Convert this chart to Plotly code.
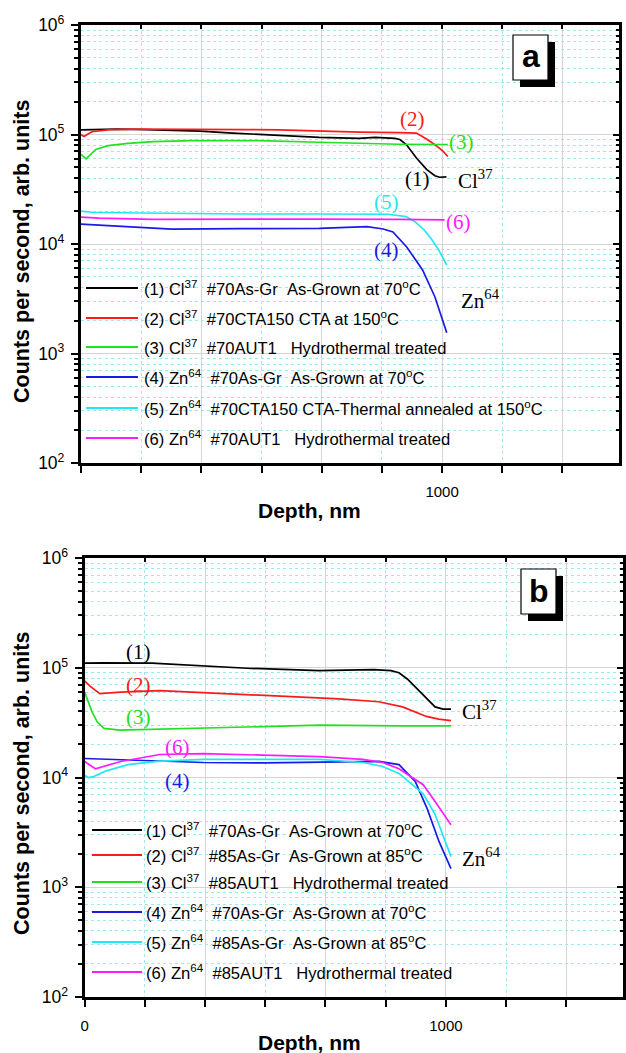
import plotly.graph_objects as go

W, H = 626, 1053

# ---------------- panel (a): #70 series, CTA and hydrothermal treatments ----------------
a_cl_asgr_x = [0, 40, 100, 180, 260, 330, 420, 550, 660, 770, 814, 870, 883, 901, 929, 957, 980, 993, 1012]
a_cl_asgr_y = [1.10e5, 1.11e5, 1.12e5, 1.11e5, 1.09e5, 1.075e5, 1.03e5, 9.8e4, 9.4e4, 9.2e4, 9.4e4, 9.2e4,
               9.0e4, 8.1e4, 6.1e4, 4.8e4, 4.2e4, 4.07e4, 4.1e4]
a_cl_cta_x = [0, 8, 30, 80, 150, 300, 450, 550, 660, 770, 880, 929, 957, 984, 1003, 1016]
a_cl_cta_y = [1.0e5, 9.6e4, 1.06e5, 1.11e5, 1.12e5, 1.12e5, 1.11e5, 1.10e5, 1.07e5, 1.05e5, 1.04e5, 1.03e5,
              9.1e4, 7.9e4, 7.0e4, 6.3e4]
a_cl_aut_x = [0, 14, 41, 75, 130, 200, 307, 494, 660, 880, 1016]
a_cl_aut_y = [6.6e4, 6.0e4, 7.3e4, 7.9e4, 8.3e4, 8.6e4, 8.8e4, 8.8e4, 8.5e4, 8.15e4, 8.1e4]
a_zn_asgr_x = [0, 107, 251, 440, 660, 792, 837, 864, 902, 946, 980, 1013]
a_zn_asgr_y = [1.52e4, 1.46e4, 1.37e4, 1.38e4, 1.39e4, 1.44e4, 1.37e4, 1.29e4, 9.4e3, 5.8e3, 3.3e3, 1.55e3]
a_zn_cta_x = [0, 30, 107, 250, 440, 660, 850, 900, 925, 950, 969, 991, 1013]
a_zn_cta_y = [2.0e4, 1.95e4, 1.93e4, 1.9e4, 1.88e4, 1.88e4, 1.87e4, 1.78e4, 1.6e4, 1.35e4, 1.13e4, 8.8e3, 6.4e3]
a_zn_aut_x = [0, 50, 200, 440, 660, 880, 1007]
a_zn_aut_y = [1.76e4, 1.72e4, 1.68e4, 1.69e4, 1.69e4, 1.68e4, 1.66e4]

# ---------------- panel (b): as-grown at 70/85 C and hydrothermal ----------------
b_cl_70_x = [0, 50, 186, 319, 450, 649, 800, 848, 870, 893, 915, 937, 955, 970, 992, 1014]
b_cl_70_y = [1.1e5, 1.11e5, 1.1e5, 1.04e5, 9.9e4, 9.4e4, 9.6e4, 9.4e4, 9.0e4, 7.9e4, 6.7e4, 5.7e4, 4.9e4,
             4.4e4, 4.2e4, 4.2e4]
b_cl_85_x = [0, 15, 42, 100, 208, 430, 704, 814, 880, 946, 980, 1014]
b_cl_85_y = [7.6e4, 6.8e4, 5.8e4, 6.0e4, 6.2e4, 5.7e4, 5.2e4, 4.9e4, 4.4e4, 3.6e4, 3.4e4, 3.3e4]
b_cl_aut_x = [0, 10, 20, 35, 54, 98, 200, 329, 500, 649, 870, 1014]
b_cl_aut_y = [6.0e4, 5.0e4, 4.0e4, 3.2e4, 2.8e4, 2.7e4, 2.75e4, 2.8e4, 2.9e4, 3.0e4, 2.95e4, 2.95e4]
b_zn_70_x = [0, 98, 200, 329, 500, 649, 815, 870, 915, 948, 981, 1014]
b_zn_70_y = [1.49e4, 1.46e4, 1.42e4, 1.37e4, 1.36e4, 1.37e4, 1.4e4, 1.31e4, 9.2e3, 5.2e3, 2.6e3, 1.48e3]
b_zn_85_x = [0, 10, 25, 60, 120, 200, 329, 649, 770, 825, 870, 937, 970, 1014]
b_zn_85_y = [1.05e4, 1.0e4, 1.02e4, 1.15e4, 1.31e4, 1.4e4, 1.46e4, 1.46e4, 1.37e4, 1.26e4, 1.09e4, 7.1e3,
             4.6e3, 1.9e3]
b_zn_aut_x = [0, 30, 100, 208, 329, 649, 770, 825, 870, 937, 970, 1014]
b_zn_aut_y = [1.4e4, 1.2e4, 1.4e4, 1.62e4, 1.65e4, 1.55e4, 1.46e4, 1.37e4, 1.2e4, 8.6e3, 6.05e3, 3.7e3]

NB = "\u00a0"
deg = "<sup>o</sup>C"
names_a = [
    f"(1) Cl<sup>37</sup>{NB*2}#70As-Gr{NB*2}As-Grown at 70{deg}",
    f"(2) Cl<sup>37</sup>{NB*2}#70CTA150 CTA at 150{deg}",
    f"(3) Cl<sup>37</sup>{NB*2}#70AUT1{NB*3}Hydrothermal treated",
    f"(4) Zn<sup>64</sup>{NB*2}#70As-Gr{NB*2}As-Grown at 70{deg}",
    f"(5) Zn<sup>64</sup>{NB*2}#70CTA150 CTA-Thermal annealed at 150{deg}",
    f"(6) Zn<sup>64</sup>{NB*2}#70AUT1{NB*3}Hydrothermal treated",
]
names_b = [
    f"(1) Cl<sup>37</sup>{NB*2}#70As-Gr{NB*2}As-Grown at 70{deg}",
    f"(2) Cl<sup>37</sup>{NB*2}#85As-Gr{NB*2}As-Grown at 85{deg}",
    f"(3) Cl<sup>37</sup>{NB*2}#85AUT1{NB*3}Hydrothermal treated",
    f"(4) Zn<sup>64</sup>{NB*2}#70As-Gr{NB*2}As-Grown at 70{deg}",
    f"(5) Zn<sup>64</sup>{NB*2}#85As-Gr{NB*2}As-Grown at 85{deg}",
    f"(6) Zn<sup>64</sup>{NB*2}#85AUT1{NB*3}Hydrothermal treated",
]
colors = ["#000000", "#ff1a1a", "#22e022", "#1a1ae6", "#1ee8f0", "#ff1aff"]

series_a = [(a_cl_asgr_x, a_cl_asgr_y), (a_cl_cta_x, a_cl_cta_y), (a_cl_aut_x, a_cl_aut_y),
            (a_zn_asgr_x, a_zn_asgr_y), (a_zn_cta_x, a_zn_cta_y), (a_zn_aut_x, a_zn_aut_y)]
series_b = [(b_cl_70_x, b_cl_70_y), (b_cl_85_x, b_cl_85_y), (b_cl_aut_x, b_cl_aut_y),
            (b_zn_70_x, b_zn_70_y), (b_zn_85_x, b_zn_85_y), (b_zn_aut_x, b_zn_aut_y)]

x_major = [0, 1000 / 3, 2000 / 3, 1000, 4000 / 3]
x_text_a = ["", "", "", "1000", ""]
x_text_b = ["0", "", "", "1000", ""]
X_RANGE = [0, 1490]
Y_RANGE = [2, 6]

SANS = "Liberation Sans, Arial, sans-serif"
SERIF = "Liberation Serif, Times New Roman, serif"
GRID = "#d4d4d4"
MINOR_GRID = "#9fe9ee"


def pxx(x):
    return x / W


def pxy(y):
    return 1 - y / H


fig = go.Figure()

for (xs, ys), c, n in zip(series_a, colors, names_a):
    fig.add_trace(go.Scatter(x=xs, y=ys, mode="lines", name=n, showlegend=False,
                             line=dict(color=c, width=1.7), xaxis="x", yaxis="y"))
for (xs, ys), c, n in zip(series_b, colors, names_b):
    fig.add_trace(go.Scatter(x=xs, y=ys, mode="lines", name=n, showlegend=False,
                             line=dict(color=c, width=1.7), xaxis="x2", yaxis="y2"))
# empty traces so the mirrored frame axes (top/right) are laid out
fig.add_trace(go.Scatter(x=[], y=[], xaxis="x3", yaxis="y3", showlegend=False, hoverinfo="skip"))
fig.add_trace(go.Scatter(x=[], y=[], xaxis="x4", yaxis="y4", showlegend=False, hoverinfo="skip"))

dom_a_x = [pxx(81), pxx(619)]
dom_a_y = [pxy(463), pxy(25)]
dom_b_x = [pxx(84.6), pxx(623)]
dom_b_y = [pxy(997), pxy(558)]


def bottom_axis(domain, anchor, texts):
    return dict(domain=domain, anchor=anchor, range=X_RANGE, automargin=False, tickmode="array",
                tickvals=x_major, ticktext=texts, ticks="outside", ticklen=7, tickwidth=2, tickcolor="black",
                ticklabelstandoff=6, tickfont=dict(family=SANS, size=15, color="black"),
                showline=True, linewidth=2.5, linecolor="black", mirror=False, zeroline=False,
                showgrid=True, gridcolor=GRID, gridwidth=1,
                minor=dict(tick0=0, dtick=1000 / 6, ticks="outside", ticklen=7, tickwidth=2,
                           tickcolor="black", showgrid=True, gridcolor=MINOR_GRID, griddash="dot",
                           gridwidth=1))


def top_axis(over, anchor, domain):
    return dict(overlaying=over, side="top", anchor=anchor, domain=domain, range=X_RANGE, automargin=False,
                tickmode="array", tickvals=x_major, ticks="inside", ticklen=4, tickwidth=2,
                tickcolor="black", showticklabels=False, showline=True, linewidth=2.5, linecolor="black",
                showgrid=False, zeroline=False,
                minor=dict(tick0=0, dtick=1000 / 6, ticks="inside", ticklen=4, tickwidth=2,
                           tickcolor="black", showgrid=False))


def left_axis(domain, anchor):
    return dict(domain=domain, anchor=anchor, type="log", range=Y_RANGE, dtick=1, automargin=False,
                exponentformat="power", ticks="outside", ticklen=7, tickwidth=2, tickcolor="black",
                ticklabelstandoff=4, tickfont=dict(family=SANS, size=14, color="black"),
                showline=True, linewidth=2.5, linecolor="black", zeroline=False,
                showgrid=True, gridcolor=GRID, gridwidth=1,
                minor=dict(dtick="D1", ticks="outside", ticklen=4, tickwidth=1.5, tickcolor="black",
                           showgrid=True, gridcolor=MINOR_GRID, griddash="dot", gridwidth=1))


def right_axis(over, anchor, domain):
    return dict(overlaying=over, side="right", anchor=anchor, domain=domain, type="log", range=Y_RANGE,
                dtick=1, automargin=False, ticks="inside", ticklen=6, tickwidth=2, tickcolor="black",
                showticklabels=False, showline=True, linewidth=2.5, linecolor="black", showgrid=False,
                zeroline=False,
                minor=dict(dtick="D1", ticks="inside", ticklen=3, tickwidth=1.5, tickcolor="black",
                           showgrid=False))


fig.update_layout(
    template="none",
    width=W, height=H, margin=dict(l=0, r=0, t=0, b=0, autoexpand=False),
    paper_bgcolor="white", plot_bgcolor="white", showlegend=False,
    xaxis=bottom_axis(dom_a_x, "y", x_text_a),
    yaxis=left_axis(dom_a_y, "x"),
    xaxis2=bottom_axis(dom_b_x, "y2", x_text_b),
    yaxis2=left_axis(dom_b_y, "x2"),
    xaxis3=top_axis("x", "y3", dom_a_x),
    yaxis3=right_axis("y", "x3", dom_a_y),
    xaxis4=top_axis("x2", "y4", dom_b_x),
    yaxis4=right_axis("y2", "x4", dom_b_y),
)

ann = []
shapes = []


def text_ann(x, y, text, size, family=SANS, color="black", angle=0, xanchor="center", **kw):
    d = dict(x=x, y=y, text=text, showarrow=False, textangle=angle, xanchor=xanchor, yanchor="middle",
             font=dict(family=family, size=size, color=color))
    d.update(kw)
    return d


# axis titles
for yc in (252, 784):
    ann.append(text_ann(pxx(22), pxy(yc), "<b>Counts per second, arb. units</b>", 21.5, angle=-90,
                        xref="paper", yref="paper"))
for yc in (510, 1042):
    ann.append(text_ann(pxx(309), pxy(yc), "<b>Depth, nm</b>", 21, xref="paper", yref="paper"))

# curve labels, placed in data coordinates
labels_a = [("(2)", 919, 5.146, colors[1]), ("(3)", 1054, 4.927, colors[2]), ("(1)", 932, 4.598, colors[0]),
            ("Cl<sup>37</sup>", 1092, 4.585, "black"), ("(5)", 847, 4.384, colors[4]),
            ("(6)", 1046, 4.20, colors[5]), ("(4)", 847, 3.945, colors[3]),
            ("Zn<sup>64</sup>", 1106, 3.49, "black")]
labels_b = [("(1)", 148, 5.146, colors[0]), ("(2)", 148, 4.845, colors[1]), ("(3)", 148, 4.553, colors[2]),
            ("Cl<sup>37</sup>", 1093, 4.615, "black"), ("(6)", 258, 4.282, colors[5]),
            ("(4)", 258, 3.964, colors[3]), ("Zn<sup>64</sup>", 1099, 3.27, "black")]
for labels, xr, yr in ((labels_a, "x", "y"), (labels_b, "x2", "y2")):
    for t, x, y, c in labels:
        ann.append(text_ann(x, y, t, 21, family=SERIF, color=c, xref=xr, yref=yr))

# legends
leg_a = dict(x0=86, x1=138, tx=142, rows=[288, 318, 347, 377, 408, 438], names=names_a)
leg_b = dict(x0=92, x1=142, tx=144, rows=[830, 855, 882, 912, 942, 972], names=names_b)
for leg in (leg_a, leg_b):
    for yrow, c, n in zip(leg["rows"], colors, leg["names"]):
        shapes.append(dict(type="line", xref="paper", yref="paper", x0=pxx(leg["x0"]), x1=pxx(leg["x1"]),
                           y0=pxy(yrow), y1=pxy(yrow), line=dict(color=c, width=2)))
        ann.append(text_ann(pxx(leg["tx"]), pxy(yrow), n, 16.6, xanchor="left", xref="paper", yref="paper"))

# panel tags with drop shadow
for letter, bx0, by0 in (("a", 513, 35), ("b", 521, 569)):
    bw, bh, off = 35, 45, 7
    shapes.append(dict(type="rect", xref="paper", yref="paper", x0=pxx(bx0 + off), x1=pxx(bx0 + bw + off),
                       y0=pxy(by0 + bh + off), y1=pxy(by0 + off), fillcolor="black", line=dict(width=0)))
    shapes.append(dict(type="rect", xref="paper", yref="paper", x0=pxx(bx0), x1=pxx(bx0 + bw),
                       y0=pxy(by0 + bh), y1=pxy(by0), fillcolor="white", line=dict(color="black", width=1.2)))
    ann.append(text_ann(pxx(bx0 + bw / 2), pxy(by0 + bh / 2 - 1), f"<b>{letter}</b>", 32,
                        xref="paper", yref="paper"))

fig.update_layout(annotations=ann, shapes=shapes)
fig.write_html("out.html")
